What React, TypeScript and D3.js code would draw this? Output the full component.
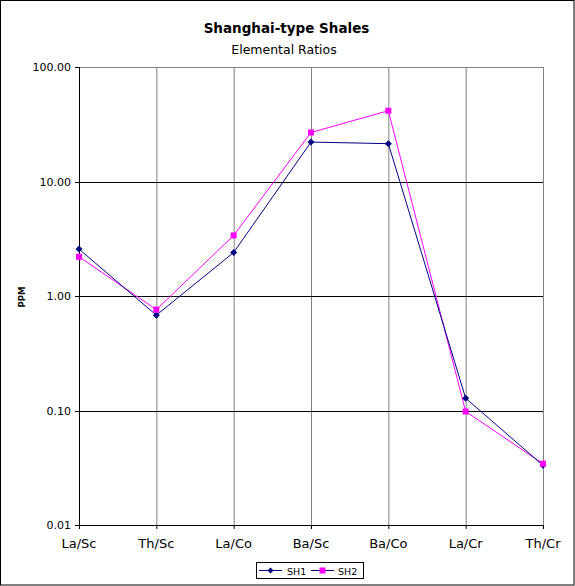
import React from "react";
import * as d3 from "d3";

const categories = ["La/Sc", "Th/Sc", "La/Co", "Ba/Sc", "Ba/Co", "La/Cr", "Th/Cr"];
const sh1 = [2.57, 0.68, 2.4, 22.1, 21.4, 0.128, 0.0332];
const sh2 = [2.2, 0.76, 3.38, 26.8, 41.5, 0.098, 0.0343];
const yTicks = [0.01, 0.1, 1, 10, 100];

const width = 575;
const height = 586;
const left = 79;
const right = 543;
const top = 67;
const bottom = 525;
const font = "'DejaVu Sans', Verdana, sans-serif";

export default function App() {
  const x = d3.scalePoint<string>().domain(categories).range([left, right]);
  const y = d3.scaleLog().domain([0.01, 100]).range([bottom, top]);

  const line = d3
    .line<number>()
    .x((_, i) => x(categories[i]) as number)
    .y((d) => y(d));

  const diamond = (cx: number, cy: number, r: number) =>
    `M${cx},${cy - r}L${cx + r},${cy}L${cx},${cy + r}L${cx - r},${cy}Z`;

  return (
    <svg
      width={width}
      height={height}
      style={{ position: "absolute", left: 0, top: 0, display: "block", background: "#fff" }}
    >
      <rect x={0.5} y={0.5} width={width - 1.5} height={height - 1.5} fill="#fff" stroke="#000" />

      <text x={286.5} y={33} textAnchor="middle" fontFamily={font} fontSize={13.5} fontWeight="bold" fill="#000">
        Shanghai-type Shales
      </text>
      <text x={284} y={54} textAnchor="middle" fontFamily={font} fontSize={12.5} fill="#000">
        Elemental Ratios
      </text>

      {/* vertical gridlines */}
      {categories.slice(1).map((c) => (
        <line key={c} x1={x(c)! + 0.5} x2={x(c)! + 0.5} y1={top} y2={bottom} stroke="#808080" />
      ))}
      {/* top border */}
      <line x1={left} x2={right} y1={top + 0.5} y2={top + 0.5} stroke="#808080" />
      {/* horizontal gridlines */}
      {yTicks.slice(1, -1).map((t) => (
        <line key={t} x1={left} x2={right} y1={Math.round(y(t)) + 0.5} y2={Math.round(y(t)) + 0.5} stroke="#000" />
      ))}

      {/* axes */}
      <line x1={left + 0.5} x2={left + 0.5} y1={top} y2={bottom} stroke="#000" />
      <line x1={left} x2={right + 1} y1={bottom + 0.5} y2={bottom + 0.5} stroke="#000" />
      {yTicks.map((t) => (
        <g key={t}>
          <line x1={left - 4} x2={left} y1={Math.round(y(t)) + 0.5} y2={Math.round(y(t)) + 0.5} stroke="#000" />
          <text x={71} y={y(t) + 4} textAnchor="end" fontFamily={font} fontSize={11} fill="#000">
            {t.toFixed(2)}
          </text>
        </g>
      ))}
      {categories.map((c) => (
        <g key={c}>
          <line x1={x(c)! + 0.5} x2={x(c)! + 0.5} y1={bottom} y2={bottom + 4} stroke="#000" />
          <text x={x(c)!} y={548} textAnchor="middle" fontFamily={font} fontSize={13} fill="#000">
            {c}
          </text>
        </g>
      ))}
      <text
        transform="translate(25,297) rotate(-90)"
        textAnchor="middle"
        fontFamily={font}
        fontSize={8.5}
        fontWeight="bold"
        fill="#000"
      >
        PPM
      </text>

      {/* series */}
      <path d={line(sh2) ?? ""} fill="none" stroke="#ff00ff" strokeWidth={1} />
      <path d={line(sh1) ?? ""} fill="none" stroke="#000080" strokeWidth={1} />
      {sh1.map((v, i) => (
        <path key={"a" + i} d={diamond(x(categories[i])!, y(v), 3.5)} fill="#000080" />
      ))}
      {sh2.map((v, i) => (
        <rect key={"b" + i} x={x(categories[i])! - 3} y={y(v) - 3} width={6} height={6} fill="#ff00ff" />
      ))}

      {/* legend */}
      <rect x={256.5} y={562.5} width={107} height={16} fill="#fff" stroke="#000" />
      <line x1={259} x2={282} y1={570.5} y2={570.5} stroke="#000080" />
      <path d={diamond(270.5, 570.5, 3)} fill="#000080" />
      <text x={287} y={574.5} fontFamily={font} fontSize={9.5} fill="#000">SH1</text>
      <line x1={311} x2={334} y1={570.5} y2={570.5} stroke="#000080" />
      <rect x={319.5} y={567.5} width={6} height={6} fill="#ff00ff" />
      <text x={338} y={574.5} fontFamily={font} fontSize={9.5} fill="#000">SH2</text>
    </svg>
  );
}
